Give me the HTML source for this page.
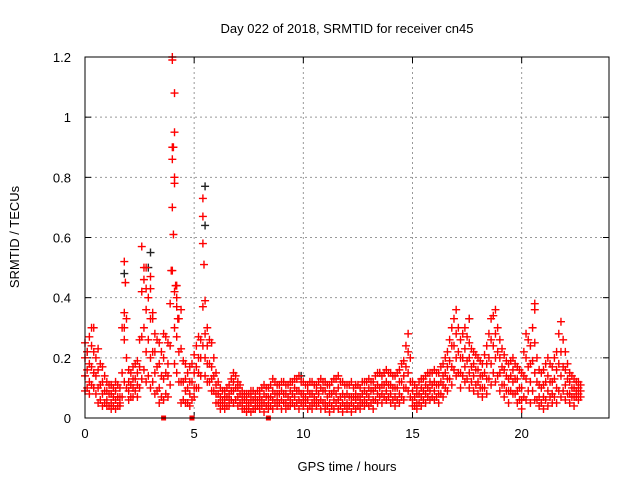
<!DOCTYPE html>
<html><head><meta charset="utf-8"><style>
html,body{margin:0;padding:0;background:#fff}
svg{display:block;font-family:"Liberation Sans",sans-serif}
</style></head><body>
<svg id="chart" width="640" height="480" viewBox="0 0 640 480">
<text x="347" y="33" font-size="13" text-anchor="middle">Day 022 of 2018, SRMTID for receiver cn45</text>
<text x="347" y="471" font-size="13" text-anchor="middle">GPS time / hours</text>
<text transform="translate(19,237) rotate(-90)" font-size="13" text-anchor="middle">SRMTID / TECUs</text>
<g id="grid"></g>
<g id="ticks"></g>
<g id="black"></g>
<g id="red"></g>
<rect x="85" y="57" width="524" height="361" fill="none" stroke="#000" stroke-width="1"/>
</svg>
<script>
const times=[0,0.2,0.4,0.6,0.8,1,1.2,1.4,1.6,1.8,2,2.2,2.4,2.6,2.8,3,3.2,3.4,3.6,3.8,4,4.2,4.4,4.6,4.8,5,5.2,5.4,5.6,5.8,6,6.2,6.4,6.6,6.8,7,7.2,7.4,7.6,7.8,8,8.2,8.4,8.6,8.8,9,9.2,9.4,9.6,9.8,10,10.2,10.4,10.6,10.8,11,11.2,11.4,11.6,11.8,12,12.2,12.4,12.6,12.8,13,13.2,13.4,13.6,13.8,14,14.2,14.4,14.6,14.8,15,15.2,15.4,15.6,15.8,16,16.2,16.4,16.6,16.8,17,17.2,17.4,17.6,17.8,18,18.2,18.4,18.6,18.8,19,19.2,19.4,19.6,19.8,20,20.2,20.4,20.6,20.8,21,21.2,21.4,21.6,21.8,22,22.2,22.4,22.6];
const v1=[.25,.27,.30,.23,.17,.12,.11,.12,.10,.52,.16,.17,.19,.57,.50,.43,.28,.25,.28,.25,1.2,.44,.36,.18,.17,.21,.27,.73,.30,.25,.15,.10,.09,.11,.15,.12,.09,.08,.09,.08,.09,.11,.10,.13,.11,.12,.11,.12,.13,.14,.12,.11,.12,.11,.13,.12,.11,.13,.14,.12,.11,.12,.11,.10,.12,.13,.12,.15,.14,.16,.15,.14,.16,.19,.28,.12,.10,.13,.14,.15,.16,.15,.18,.22,.30,.36,.26,.30,.25,.22,.20,.18,.24,.33,.36,.26,.21,.18,.20,.17,.15,.28,.24,.38,.16,.16,.20,.17,.22,.32,.22,.15,.13,.12];
const v2=[.20,.18,.22,.16,.12,.09,.08,.09,.07,.35,.12,.13,.15,.42,.36,.33,.22,.18,.20,.18,.90,.37,.23,.13,.12,.15,.20,.58,.24,.17,.11,.07,.07,.08,.12,.10,.07,.06,.07,.06,.07,.08,.07,.09,.08,.09,.08,.09,.10,.09,.08,.09,.08,.09,.10,.09,.08,.09,.10,.08,.08,.07,.08,.07,.09,.10,.09,.11,.11,.12,.11,.10,.12,.14,.22,.09,.08,.10,.11,.12,.12,.11,.14,.17,.24,.28,.20,.23,.20,.18,.16,.14,.18,.26,.28,.20,.16,.13,.16,.13,.10,.20,.18,.25,.11,.11,.14,.12,.16,.22,.16,.12,.10,.10];
const v3=[.14,.12,.15,.10,.08,.06,.05,.06,.05,.26,.09,.10,.11,.27,.22,.20,.15,.10,.13,.14,.70,.27,.12,.09,.08,.10,.15,.37,.18,.13,.08,.05,.05,.06,.09,.07,.05,.04,.05,.04,.05,.05,.05,.06,.06,.06,.05,.06,.07,.06,.06,.06,.05,.06,.06,.05,.05,.06,.06,.05,.05,.05,.06,.05,.06,.07,.06,.08,.08,.09,.08,.07,.08,.10,.15,.06,.05,.07,.08,.09,.09,.08,.11,.13,.17,.20,.15,.17,.15,.14,.12,.10,.13,.18,.20,.15,.11,.09,.12,.09,.06,.13,.12,.15,.07,.07,.09,.08,.10,.14,.11,.08,.07,.08];
const v4=[.09,.08,.10,.05,.04,.04,.03,.03,.04,.12,.06,.07,.07,.13,.12,.10,.08,.05,.06,.07,.49,.15,.05,.05,.04,.07,.10,.24,.12,.09,.05,.03,.03,.04,.05,.04,.03,.02,.02,.03,.03,.02,.03,.03,.04,.03,.03,.04,.04,.03,.04,.03,.03,.04,.03,.03,.02,.03,.03,.02,.03,.02,.03,.03,.04,.04,.03,.05,.05,.06,.05,.04,.05,.06,.09,.04,.03,.04,.05,.06,.06,.05,.07,.09,.11,.14,.10,.12,.10,.09,.08,.07,.08,.11,.12,.09,.07,.05,.08,.05,.03,.06,.05,.06,.04,.03,.04,.05,.05,.07,.06,.05,.04,.06];
const times2=[0.1,0.3,0.5,0.7,0.9,1.1,1.3,1.5,1.7,1.9,2.1,2.3,2.5,2.7,2.9,3.1,3.3,3.5,3.7,3.9,4.1,4.3,4.5,4.7,4.9,5.1,5.3,5.5,5.7,5.9,6.1,6.3,6.5,6.7,6.9,7.1,7.3,7.5,7.7,7.9,8.1,8.3,8.5,8.7,8.9,9.1,9.3,9.5,9.7,9.9,10.1,10.3,10.5,10.7,10.9,11.1,11.3,11.5,11.7,11.9,12.1,12.3,12.5,12.7,12.9,13.1,13.3,13.5,13.7,13.9,14.1,14.3,14.5,14.7,14.9,15.1,15.3,15.5,15.7,15.9,16.1,16.3,16.5,16.7,16.9,17.1,17.3,17.5,17.7,17.9,18.1,18.3,18.5,18.7,18.9,19.1,19.3,19.5,19.7,19.9,20.1,20.3,20.5,20.7,20.9,21.1,21.3,21.5,21.7,21.9,22.1,22.3,22.5,22.7];
const w1=[.22,.24,.20,.18,.14,.11,.10,.11,.30,.33,.15,.18,.26,.46,.40,.33,.26,.22,.27,.38,.42,.33,.19,.15,.18,.24,.26,.28,.26,.20,.12,.09,.10,.13,.14,.11,.08,.08,.09,.09,.10,.10,.11,.12,.11,.12,.11,.12,.13,.12,.11,.12,.11,.12,.12,.11,.12,.13,.12,.11,.11,.10,.11,.12,.12,.12,.14,.15,.15,.15,.14,.15,.18,.24,.20,.11,.12,.13,.15,.15,.15,.17,.20,.26,.33,.30,.28,.27,.23,.21,.19,.21,.28,.34,.30,.23,.19,.19,.18,.16,.22,.26,.30,.20,.15,.18,.18,.20,.28,.26,.18,.14,.12,.11];
const w2=[.16,.17,.14,.11,.09,.08,.07,.07,.15,.20,.11,.13,.17,.30,.26,.22,.17,.14,.15,.24,.30,.22,.12,.10,.12,.17,.20,.20,.18,.14,.08,.06,.07,.09,.10,.08,.06,.05,.06,.06,.06,.07,.07,.08,.08,.08,.07,.08,.09,.08,.07,.08,.07,.08,.09,.07,.08,.08,.07,.07,.07,.07,.07,.08,.08,.09,.10,.10,.11,.11,.10,.10,.12,.17,.12,.07,.08,.09,.10,.11,.11,.12,.15,.19,.24,.22,.20,.19,.17,.16,.14,.15,.20,.24,.22,.17,.14,.14,.13,.10,.14,.17,.19,.12,.10,.12,.12,.13,.18,.17,.13,.10,.09,.09];
const w3=[.10,.11,.08,.06,.05,.04,.04,.04,.07,.10,.07,.09,.10,.16,.14,.12,.09,.07,.08,.11,.18,.12,.06,.05,.06,.10,.14,.14,.12,.09,.05,.04,.04,.06,.06,.05,.03,.03,.03,.04,.04,.04,.04,.05,.05,.05,.04,.05,.05,.05,.05,.04,.05,.05,.05,.04,.04,.05,.04,.04,.04,.04,.04,.05,.05,.05,.06,.07,.07,.07,.06,.06,.07,.10,.07,.04,.05,.06,.07,.07,.07,.08,.10,.13,.16,.15,.14,.13,.12,.11,.10,.10,.13,.15,.14,.11,.09,.09,.08,.06,.07,.09,.09,.06,.05,.06,.07,.07,.09,.09,.08,.07,.07,.07];
const spikeT=[4.0,4.1,4.1,4.05,4.0,4.1,4.1,4.05,3.95,4.15,4.2,5.4,5.45,5.5,1.85,2.7,3.0,2.8,1.8,3.1,4.25,17.6,20.6,0.3];
const spikeV=[1.19,1.08,0.95,0.90,0.86,0.80,0.78,0.61,0.49,0.44,0.40,0.67,0.51,0.39,0.45,0.50,0.47,0.43,0.30,0.35,0.33,0.33,0.36,0.30];
const blackT=[3.0,5.5,5.5,1.8,2.9,17.6,0.1,9.9,13.5];
const blackV=[0.55,0.77,0.64,0.48,0.50,0.33,0.22,0.14,0.15];
const zeroT=[3.6,4.9,8.4];
const xTicks=[0,5,10,15,20];
const yTicks=[0,0.2,0.4,0.6,0.8,1,1.2];
const yLabels=["0","0.2","0.4","0.6","0.8","1","1.2"];

const NS="http://www.w3.org/2000/svg";
const X0=85,X1=609,Y0=418,Y1=57;
const xs=t=>X0+t/24*(X1-X0);
const ys=v=>Y0-v/1.2*(Y0-Y1);
function mk(tag,attrs,parent){const e=document.createElementNS(NS,tag);for(const k in attrs)e.setAttribute(k,attrs[k]);parent.appendChild(e);return e;}
const grid=document.getElementById('grid'),ticks=document.getElementById('ticks');
xTicks.forEach(t=>{
  const x=xs(t);
  if(t>0){const g=mk('line',{x1:x,x2:x,y1:Y1,y2:Y0,stroke:'#999','stroke-dasharray':'2,3'},grid);
  
  }
  mk('line',{x1:x,x2:x,y1:Y0,y2:Y0-6,stroke:'#000'},ticks);
  mk('line',{x1:x,x2:x,y1:Y1,y2:Y1+6,stroke:'#000'},ticks);
  const l=mk('text',{x:x,y:Y0+20,'font-size':13,'text-anchor':'middle'},ticks);
  l.textContent=String(t);
  
  
});
yTicks.forEach((v,i)=>{
  const y=ys(v);
  if(v>0&&v<1.2){const g=mk('line',{x1:X0,x2:X1,y1:y,y2:y,stroke:'#999','stroke-dasharray':'2,3'},grid);
  
  }
  mk('line',{x1:X0,x2:X0+6,y1:y,y2:y,stroke:'#000'},ticks);
  mk('line',{x1:X1,x2:X1-6,y1:y,y2:y,stroke:'#000'},ticks);
  const l=mk('text',{x:71,y:y+5,'font-size':13,'text-anchor':'end'},ticks);
  l.textContent=yLabels[i];
  
  
});
function plus(g,t,v,c){
  const x=xs(t),y=ys(v);
  const p=mk('path',{d:`M${x-4} ${y}H${x+4}M${x} ${y-4}V${y+4}`,stroke:c,'stroke-width':1.4,fill:'none'},g);
  
  
}
const black=document.getElementById('black'),red=document.getElementById('red');
blackT.forEach((t,i)=>plus(black,t,blackV[i],'#222'));
[v1,v2,v3,v4].forEach(arr=>times.forEach((t,i)=>plus(red,t,arr[i],'#f00')));
[w1,w2,w3].forEach(arr=>times2.forEach((t,i)=>plus(red,t,arr[i],'#f00')));
spikeT.forEach((t,i)=>plus(red,t,spikeV[i],'#f00'));
zeroT.forEach(t=>{
  const r=mk('rect',{x:xs(t)-2.5,y:Y0-2.5,width:5,height:5,fill:'#f00'},red);
  
  
});
</script>
</body></html>
